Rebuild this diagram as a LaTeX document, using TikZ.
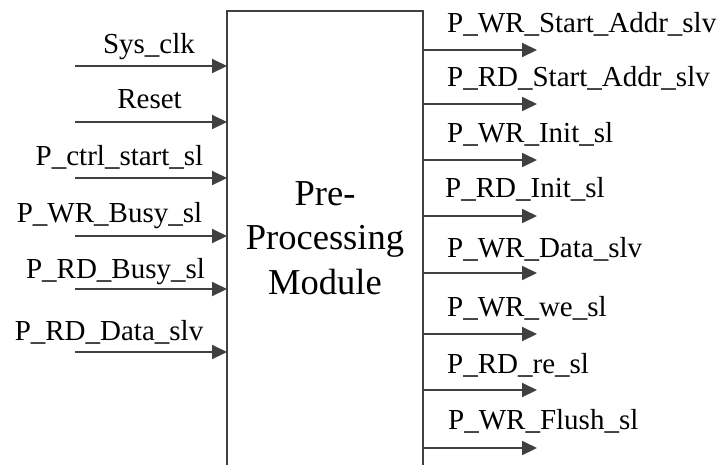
\documentclass[tikz,border=0pt]{standalone}
\usepackage{fontspec}
\setmainfont{Liberation Serif}
\usetikzlibrary{arrows.meta}
\definecolor{ln}{RGB}{64,64,64}
\tikzset{
  sig/.style={draw=ln, line width=2pt, -{Triangle[length=15pt,width=14pt]}},
  lbl/.style={inner sep=0pt, font=\fontsize{29}{34}\selectfont},
  modbox/.style={draw=ln, line width=2pt, fill=white, inner sep=0pt}
}
\begin{document}
\begin{tikzpicture}[x=1pt,y=-1pt]
\useasboundingbox (0,0) rectangle (723,464);
\clip (0,0) rectangle (723,464);
% module box
\draw[modbox] (227,11) rectangle (423,490);
\coordinate (bw) at (227,250);
\coordinate (be) at (423,250);
\node[align=center, inner sep=0pt, font=\fontsize{36.5}{44.5}\selectfont, anchor=base] (title) at (325,294) {Pre-\\Processing\\Module};
% inputs
\coordinate (in1) at (75,66);
\coordinate (in2) at (75,122);
\coordinate (in3) at (75,178);
\coordinate (in4) at (75,236);
\coordinate (in5) at (75,289);
\coordinate (in6) at (75,352);
\foreach \i in {1,...,6} { \draw[sig] (in\i) -- (in\i -| bw); }
\node[lbl, anchor=base] (l1) at (149,53) {Sys\_clk};
\node[lbl, anchor=base] (l2) at (149.5,108) {Reset};
\node[lbl, anchor=base] (l3) at (119.5,165) {P\_ctrl\_start\_sl};
\node[lbl, anchor=base] (l4) at (109.5,222) {P\_WR\_Busy\_sl};
\node[lbl, anchor=base] (l5) at (115.5,278) {P\_RD\_Busy\_sl};
\node[lbl, anchor=base] (l6) at (109,340) {P\_RD\_Data\_slv};
% outputs
\coordinate (o1) at (537,50);
\coordinate (o2) at (537,104);
\coordinate (o3) at (537,160);
\coordinate (o4) at (537,216);
\coordinate (o5) at (537,273);
\coordinate (o6) at (537,334);
\coordinate (o7) at (537,390);
\coordinate (o8) at (537,448);
\foreach \i in {1,...,8} { \draw[sig] (o\i -| be) -- (o\i); }
\node[lbl, anchor=base west] (r1) at (447,32) {P\_WR\_Start\_Addr\_slv};
\node[lbl, anchor=base west] (r2) at (447,86) {P\_RD\_Start\_Addr\_slv};
\node[lbl, anchor=base west] (r3) at (447,142) {P\_WR\_Init\_sl};
\node[lbl, anchor=base west] (r4) at (445,197) {P\_RD\_Init\_sl};
\node[lbl, anchor=base west] (r5) at (447,257) {P\_WR\_Data\_slv};
\node[lbl, anchor=base west] (r6) at (447,316) {P\_WR\_we\_sl};
\node[lbl, anchor=base west] (r7) at (447,373) {P\_RD\_re\_sl};
\node[lbl, anchor=base west] (r8) at (448,429) {P\_WR\_Flush\_sl};
\end{tikzpicture}
\end{document}
